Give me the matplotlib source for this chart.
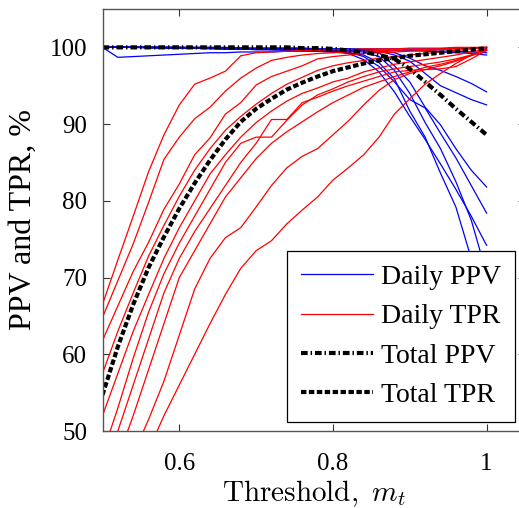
import matplotlib
matplotlib.use("Agg")
import matplotlib.pyplot as plt
from matplotlib.lines import Line2D
from matplotlib import font_manager

font_manager.findfont('Liberation Serif', fallback_to_default=False)
plt.rcParams['font.family'] = ['Liberation Serif', 'DejaVu Serif']
plt.rcParams['mathtext.fontset'] = 'cm'

# Threshold grid
threshold = [0.50, 0.52, 0.54, 0.56, 0.58, 0.60, 0.62, 0.64, 0.66, 0.68, 0.70, 0.72, 0.74,
             0.76, 0.78, 0.80, 0.82, 0.84, 0.86, 0.88, 0.90, 0.92, 0.94, 0.96, 0.98, 1.00]

# Daily TPR curves (%)
tpr_1 = [66.5, 72.3, 78.0, 83.8, 88.6, 92.5, 95.2, 96.0, 96.9, 98.9, 99.3, 99.4, 99.5,
         99.6, 99.6, 99.7, 99.7, 99.8, 99.8, 99.8, 99.9, 99.9, 99.9, 100.0, 100.0, 100.0]
tpr_2 = [64.8, 69.6, 74.4, 79.8, 85.4, 88.3, 90.7, 92.2, 94.3, 96.0, 97.3, 98.3, 98.7,
         99.0, 99.2, 99.3, 99.4, 99.5, 99.6, 99.6, 99.7, 99.7, 99.8, 99.9, 99.9, 100.0]
tpr_3 = [61.8, 66.3, 70.8, 74.6, 78.9, 82.2, 86.0, 88.2, 91.3, 92.8, 95.1, 96.2, 96.9,
         97.6, 98.5, 98.8, 99.0, 99.2, 99.3, 99.4, 99.5, 99.6, 99.7, 99.8, 99.9, 100.0]
tpr_4 = [57.5, 63.0, 68.0, 72.8, 76.8, 80.6, 84.0, 86.8, 89.2, 91.0, 92.6, 94.0, 95.2,
         96.1, 97.0, 97.6, 98.0, 98.3, 98.6, 98.8, 99.0, 99.2, 99.4, 99.6, 99.8, 100.0]
tpr_5 = [52.0, 57.5, 63.0, 67.8, 72.5, 76.5, 80.0, 83.5, 86.0, 88.3, 90.2, 91.7, 93.0,
         94.0, 94.7, 95.5, 96.0, 96.8, 97.3, 97.8, 98.1, 98.4, 98.7, 99.0, 99.4, 99.8]
tpr_6 = [47.0, 53.0, 59.5, 65.5, 70.5, 74.5, 78.0, 81.5, 85.0, 87.5, 88.3, 88.3, 90.5,
         92.5, 93.8, 94.6, 95.5, 96.2, 96.8, 97.2, 97.5, 97.8, 98.1, 98.5, 99.0, 99.8]
tpr_7 = [46.0, 50.0, 56.0, 62.0, 68.0, 72.5, 76.0, 79.0, 82.0, 85.0, 87.5, 90.6, 90.6,
         92.8, 93.5, 94.3, 95.0, 95.6, 96.2, 96.8, 97.0, 97.1, 97.2, 97.5, 98.5, 99.6]
tpr_8 = [42.0, 46.5, 52.0, 58.0, 64.0, 70.0, 73.5, 77.0, 80.5, 83.0, 85.5, 87.5, 89.0,
         90.3, 91.6, 92.8, 93.8, 94.8, 95.5, 96.2, 96.8, 97.4, 97.8, 98.3, 99.0, 99.7]
tpr_9 = [40.0, 43.0, 47.0, 51.5, 56.5, 62.5, 68.5, 72.5, 75.2, 76.5, 79.2, 82.0, 84.3,
         85.8, 86.8, 88.6, 90.4, 92.5, 94.4, 95.8, 96.6, 97.1, 97.6, 98.2, 98.9, 99.6]
tpr_10 = [30.0, 36.0, 42.0, 47.5, 52.0, 56.0, 60.0, 64.0, 67.8, 71.2, 73.5, 74.8, 77.0,
          78.8, 80.5, 82.7, 84.3, 86.0, 88.3, 91.3, 93.3, 95.2, 96.6, 97.9, 99.0, 99.7]

# Daily PPV curves (%)
ppv_1 = [100.0, 100.0, 100.0, 100.0, 100.0, 100.0, 99.9, 99.9, 99.9, 99.8, 99.8, 99.8, 99.7,
         99.6, 99.5, 99.4, 99.3, 99.0, 98.0, 95.9, 91.7, 88.3, 83.6, 79.2, 72.5, 66.5]
ppv_2 = [100.0, 100.0, 100.0, 100.0, 99.9, 99.9, 99.9, 99.9, 99.8, 99.8, 99.8, 99.7, 99.7,
         99.7, 99.6, 99.6, 99.5, 99.4, 98.8, 97.0, 94.0, 90.2, 86.8, 82.5, 77.5, 70.5]
ppv_3 = [100.0, 100.0, 100.0, 100.0, 100.0, 99.9, 99.9, 99.9, 99.9, 99.9, 99.8, 99.8, 99.8,
         99.8, 99.7, 99.7, 99.6, 99.5, 99.3, 97.6, 95.5, 92.2, 89.9, 86.8, 84.0, 81.8]
ppv_4 = [100.0, 100.0, 100.0, 100.0, 100.0, 100.0, 100.0, 100.0, 99.9, 99.9, 99.9, 99.9, 99.9,
         99.9, 99.8, 99.8, 99.8, 99.7, 99.6, 99.3, 98.6, 97.6, 97.0, 96.2, 95.3, 94.2]
ppv_5 = [100.0, 100.0, 100.0, 99.9, 99.9, 99.9, 99.9, 99.8, 99.8, 99.8, 99.8, 99.8, 99.7,
         99.7, 99.7, 99.7, 99.6, 99.6, 99.5, 99.0, 98.2, 96.6, 95.0, 94.1, 93.2, 92.5]
ppv_6 = [100.0, 100.0, 100.0, 100.0, 100.0, 99.9, 99.9, 99.9, 99.8, 99.8, 99.7, 99.7, 99.7,
         99.6, 99.6, 99.5, 99.4, 98.8, 97.5, 95.5, 93.2, 92.1, 88.8, 85.6, 82.0, 78.4]
ppv_7 = [100.0, 100.0, 100.0, 100.0, 99.9, 99.9, 99.9, 99.9, 99.8, 99.8, 99.7, 99.7, 99.6,
         99.6, 99.5, 99.4, 99.2, 98.4, 96.8, 94.2, 91.0, 88.0, 84.8, 81.5, 78.0, 74.2]
ppv_8 = [100.0, 98.7, 98.8, 98.9, 99.0, 99.1, 99.2, 99.3, 99.3, 99.4, 99.4, 99.4, 99.5,
         99.5, 99.5, 99.5, 99.5, 99.5, 99.6, 99.6, 99.6, 99.6, 99.5, 99.5, 99.4, 99.3]
ppv_9 = [100.0, 100.0, 100.0, 100.0, 100.0, 100.0, 100.0, 100.0, 100.0, 99.9, 99.9, 99.9, 99.9,
         99.9, 99.8, 99.8, 99.8, 99.8, 99.8, 99.8, 99.8, 99.8, 99.8, 99.9, 99.9, 99.9]
ppv_10 = [100.0, 100.0, 100.0, 100.0, 100.0, 100.0, 99.9, 99.9, 99.9, 99.9, 99.8, 99.8, 99.8,
          99.8, 99.7, 99.7, 99.7, 99.7, 99.6, 99.6, 99.6, 99.5, 99.4, 99.3, 99.2, 99.0]

# Totals (%)
total_ppv = [100.0, 100.0, 100.0, 100.0, 100.0, 100.0, 100.0, 100.0, 100.0, 100.0, 100.0, 100.0, 100.0,
             99.9, 99.9, 99.8, 99.6, 99.4, 99.0, 98.5, 97.2, 95.5, 93.8, 92.0, 90.3, 88.6]
total_tpr = [54.7, 61.0, 66.5, 71.3, 75.3, 79.0, 82.3, 85.3, 88.0, 90.3, 92.0, 93.3, 94.5,
             95.4, 96.2, 96.9, 97.4, 97.9, 98.3, 98.6, 98.9, 99.1, 99.3, 99.5, 99.7, 99.9]

daily_ppv = [ppv_1, ppv_2, ppv_3, ppv_4, ppv_5, ppv_6, ppv_7, ppv_8, ppv_9, ppv_10]
daily_tpr = [tpr_1, tpr_2, tpr_3, tpr_4, tpr_5, tpr_6, tpr_7, tpr_8, tpr_9, tpr_10]

x_ticks = [0.6, 0.8, 1.0]
x_tick_labels = ['0.6', '0.8', '1']
y_ticks = [50, 60, 70, 80, 90, 100]

W, H = 519, 508
fig = plt.figure(figsize=(W / 100, H / 100), dpi=100)
L, R, T, B = 102.5, 525.0, 9.0, 431.0
ax = fig.add_axes([L / W, (H - B) / H, (R - L) / W, (B - T) / H])

for s in daily_ppv:
    ax.plot(threshold, s, color=(0, 0, 1), lw=0.9)
for s in daily_tpr:
    ax.plot(threshold, s, color=(1, 0, 0), lw=0.9)

dashdot = (0, (1.6, 0.7, 0.35, 0.7))
dashed = (0, (1.3, 0.6))
ax.plot(threshold, total_ppv, color='black', lw=3.0, linestyle=dashdot)
ax.plot(threshold, total_tpr, color='black', lw=3.0, linestyle=dashed)

ax.set_xlim(0.5, 1.05)
ax.set_ylim(50, 105)
ax.set_xticks(x_ticks)
ax.set_xticklabels(x_tick_labels)
ax.set_yticks(y_ticks)
ax.tick_params(direction='in', top=True, right=True, length=5, width=0.8,
               labelsize=18, color='#333333')
ax.tick_params(axis='x', pad=16)
ax.tick_params(axis='y', pad=11)
for sp in ax.spines.values():
    sp.set_color('#555555')
    sp.set_linewidth(1.0)

ax.set_xlabel(r'$\mathrm{Threshold,}\ m_t$', fontsize=21)
ax.xaxis.set_label_coords(0.5, (B - 479) / (B - T))
ax.set_ylabel('PPV and TPR, %', fontsize=23)
ax.yaxis.set_label_coords((38 - L) / (R - L), 0.5)

handles = [
    Line2D([], [], color=(0, 0, 1), lw=0.9),
    Line2D([], [], color=(1, 0, 0), lw=0.9),
    Line2D([], [], color='black', lw=3.0, linestyle=dashdot),
    Line2D([], [], color='black', lw=3.0, linestyle=dashed),
]
labels = ['Daily PPV', 'Daily TPR', 'Total PPV', 'Total TPR']
leg = ax.legend(handles, labels, loc='lower right',
                bbox_to_anchor=((515 - L) / (R - L), (B - 422) / (B - T)),
                borderaxespad=0, fontsize=20, frameon=True, fancybox=False,
                edgecolor='black', framealpha=1, handlelength=2.6,
                handletextpad=0.3, borderpad=0.5, labelspacing=0.5)
leg.get_frame().set_linewidth(0.9)

fig.savefig('out.png', dpi=100)
